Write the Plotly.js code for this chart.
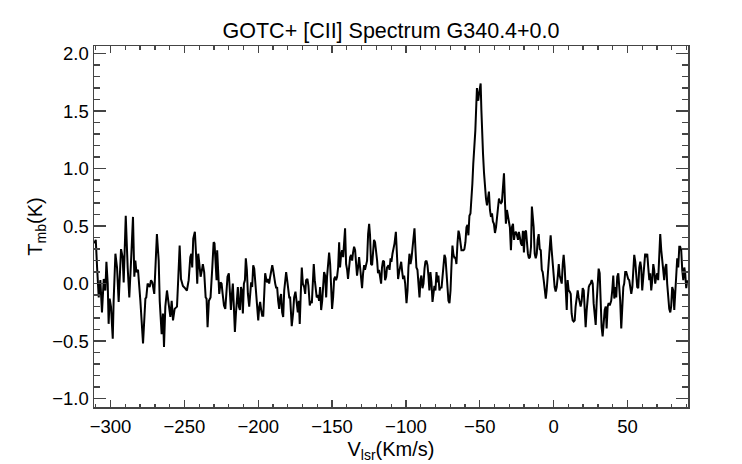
<!DOCTYPE html>
<html>
<head>
<meta charset="utf-8">
<script src="https://cdn.plot.ly/plotly-3.0.1.min.js"></script>
<style>
  html, body { margin: 0; padding: 0; background: #fff; }
  #plot { width: 742px; height: 464px; }
</style>
</head>
<body>
<div id="plot"></div>
<script>
// velocity (km/s)
var vlsr = [
  -311.0, -310.0, -309.1, -308.0, -306.9, -305.8, -304.6, -303.5, -302.8, -301.9,
  -301.3, -300.6, -299.7, -298.5, -297.9, -296.7, -295.6, -294.5, -292.9, -291.8,
  -291.1, -289.7, -288.4, -287.3, -286.1, -284.8, -283.9, -283.2, -282.5, -281.4,
  -279.8, -278.0, -276.4, -275.8, -274.9, -273.5, -272.6, -271.7, -270.4, -268.6,
  -267.4, -266.7, -265.4, -264.5, -263.8, -262.9, -261.8, -260.9, -259.5, -258.6,
  -257.7, -256.6, -255.0, -254.1, -253.2, -252.3, -251.0, -249.6, -248.3, -247.1,
  -246.0, -245.3, -244.7, -244.0,
  -242.9, -242.0, -241.3, -240.6, -239.7, -239.0, -238.1, -237.5, -236.6, -235.6,
  -235.0, -234.3, -233.4, -232.3, -231.1, -230.2, -229.6, -228.9, -228.2, -227.8,
  -227.1, -226.4, -225.5, -224.8, -224.1, -223.2, -222.3, -221.4, -220.8, -219.9,
  -219.2, -218.5, -217.8, -217.2, -216.5, -215.8, -215.1, -214.5, -213.8, -213.1,
  -212.4, -211.7, -211.1, -210.4, -209.7, -209.0, -208.4, -207.7, -207.0, -206.1,
  -205.4, -204.8, -204.1, -203.4, -202.7, -202.0, -201.4, -200.7, -200.0, -199.3,
  -198.7, -198.0, -197.3, -196.6, -196.0, -195.3, -194.6, -193.9, -193.3, -192.6,
  -191.9, -191.2, -190.5, -189.9, -189.2, -188.5, -187.8, -187.2, -186.5, -185.8,
  -185.1, -184.5, -183.8, -183.1, -182.4, -181.7, -181.1, -180.4, -179.7, -179.0,
  -178.4,
  -177.9, -177.3, -176.4, -175.7, -174.8, -174.1, -173.2, -172.5, -171.9, -171.2,
  -170.5, -169.8, -168.9, -168.2, -167.6, -166.7, -166.0, -165.1, -164.4, -163.7,
  -163.1, -162.4, -161.7, -161.0, -160.4, -159.5, -158.8, -158.1, -157.4, -156.7,
  -156.1, -155.4, -154.7, -154.0, -153.4, -152.7, -152.0, -151.3, -150.7, -150.0,
  -149.3, -148.6, -147.9, -147.3, -146.6, -145.9, -145.2, -144.6, -143.9, -143.2,
  -142.5, -141.9, -141.2, -140.5, -139.8, -139.2, -138.5, -137.8, -137.1, -136.4,
  -135.8, -135.1, -134.4, -133.7, -133.1, -132.4, -131.7, -131.0, -130.4, -129.7,
  -129.0, -128.3, -127.7, -127.0, -126.3, -125.6, -124.9, -124.3, -123.6, -122.9,
  -122.2, -121.6, -120.9, -120.2, -119.5, -118.9, -118.2, -117.5, -116.8, -116.2,
  -115.5, -114.8, -114.1, -113.4, -112.8,
  -111.8, -111.1, -110.4, -109.8, -109.1, -108.4, -107.7, -106.8, -106.2, -105.3,
  -104.6, -103.9, -103.2, -102.5, -101.9, -101.2, -100.5, -99.6, -98.9, -98.3,
  -97.6, -96.9, -96.2, -95.6, -94.9, -94.2, -93.5, -92.9, -92.2, -91.5,
  -90.8, -90.1, -89.5, -88.8, -88.1, -87.4, -86.8, -86.1, -85.4, -84.7,
  -84.1, -83.4, -82.7, -82.0, -81.4, -80.7, -80.0, -79.3, -78.6, -78.0,
  -77.3, -76.6, -75.9, -75.3, -74.6, -73.9, -73.2, -72.6, -71.9, -71.2,
  -70.5, -69.8, -69.2, -68.5, -67.8, -67.1, -66.5, -65.8, -65.1, -64.4,
  -63.8, -63.1, -62.4, -61.7, -61.0, -60.4, -59.7, -59.0, -58.3, -57.7,
  -57.0, -56.3,
  -55.7, -55.0, -54.4, -53.7, -53.0, -52.3, -51.9, -51.4, -51.0, -50.5,
  -49.8, -49.4, -48.9, -48.5, -47.8, -47.1, -46.5, -45.8, -45.1, -44.4,
  -43.8, -43.1, -42.4, -41.7, -41.1, -40.4, -39.7, -39.0, -38.3, -37.7,
  -37.0, -36.3, -35.6, -35.0, -34.3, -33.6, -32.9, -32.3, -31.6, -30.9,
  -30.2, -29.6, -28.9, -28.2, -27.5, -26.8, -26.2, -25.5, -24.8, -24.1,
  -23.5, -22.8, -22.1, -21.4, -20.8, -20.1, -19.4, -18.7, -18.1, -17.4,
  -16.7, -16.0, -15.3, -14.7,
  -13.5, -12.8, -12.1, -11.4, -10.8, -10.1, -9.4, -8.7, -8.0, -7.4,
  -6.7, -6.0, -5.3, -4.7, -4.0, -3.3, -2.6, -2.0, -1.3, -0.6,
  0.1, 0.7, 1.4, 2.1, 2.8, 3.5, 4.1, 4.8, 5.5, 6.2,
  6.8, 7.5, 8.2, 8.9, 9.5, 10.2, 10.9, 11.6, 12.2, 12.9,
  13.6, 14.3, 14.9, 15.6, 16.3, 17.0, 17.7, 18.3, 19.0, 19.7,
  20.4, 21.0, 21.7, 22.4, 23.1, 23.8, 24.4, 25.1, 25.8, 26.5,
  27.1, 27.8, 28.5, 29.2, 29.8, 30.5, 31.2, 31.9, 32.5, 33.2,
  33.9, 34.6, 35.3, 35.9, 36.6, 37.3, 38.0,
  39.0, 39.7, 40.4, 41.1, 41.7, 42.4, 43.1, 43.8, 44.5, 45.1,
  45.8, 46.5, 47.2, 47.8, 48.5, 49.2, 49.9, 50.5, 51.2, 51.9,
  52.6, 53.3, 53.9, 54.6, 55.3, 56.0, 56.6, 57.3, 58.0, 58.7,
  59.3, 60.0, 60.7, 61.4, 62.0, 62.7, 63.4, 64.1, 64.8, 65.4,
  66.1, 66.8, 67.5, 68.1, 68.8, 69.5, 70.2, 70.8, 71.5, 72.2,
  72.9, 73.5, 74.2, 74.9, 75.6, 76.3, 76.9, 77.6, 78.3, 79.0,
  79.6, 80.3, 81.0, 81.7, 82.3, 83.0, 83.7, 84.4, 85.1, 85.7,
  86.4, 87.1, 87.8, 88.5, 89.1, 89.8, 90.5
];

// main beam temperature (K)
var tmb = [
  0.35, 0.38, 0.14, -0.12, 0.03, -0.25, 0.04, -0.06, 0.19, 0.00,
  -0.35, -0.13, -0.20, -0.48, -0.15, 0.26, 0.14, -0.16, 0.30, 0.23,
  0.01, 0.59, 0.14, -0.12, 0.20, 0.58, 0.06, 0.20, 0.10, 0.12,
  -0.15, -0.52, -0.13, -0.12, 0.00, -0.03, 0.03, 0.01, -0.09, 0.43,
  0.20, -0.15, -0.44, -0.26, -0.55, -0.20, -0.06, -0.17, -0.29, -0.15,
  -0.32, -0.22, -0.20, 0.06, 0.33, 0.04, -0.02, -0.04, -0.06, 0.03,
  0.23, 0.26, 0.14, 0.39,
  0.45, 0.23, 0.00, 0.26, 0.10, 0.06, 0.12, 0.17, 0.10, -0.12,
  -0.13, -0.38, -0.15, -0.12, 0.14, 0.36, 0.35, 0.23, 0.03, 0.29,
  0.12, -0.09, 0.01, 0.00, -0.09, -0.19, -0.22, -0.06, 0.06, 0.09,
  -0.12, -0.23, -0.09, 0.00, -0.20, -0.42, -0.26, -0.09, -0.03, -0.20,
  -0.23, -0.03, -0.06, -0.26, 0.00, 0.03, 0.22, 0.12, -0.09, -0.20,
  -0.06, 0.01, -0.03, 0.16, 0.13, 0.00, -0.09, -0.23, -0.32, -0.20,
  -0.16, -0.23, -0.28, -0.28, 0.00, 0.09, 0.04, 0.01, 0.04, 0.00,
  0.06, 0.10, 0.16, 0.12, 0.04, 0.00, -0.04, -0.03, -0.15, -0.22,
  -0.12, -0.09, -0.25, -0.29, -0.06, 0.07, 0.10, 0.03, -0.06, -0.12,
  -0.12,
  -0.26, -0.37, -0.26, -0.12, -0.07, -0.17, -0.25, -0.15, -0.35, -0.09,
  0.14, 0.00, -0.03, -0.09, 0.03, 0.04, -0.02, -0.19, -0.15, -0.17,
  0.03, 0.17, 0.03, -0.03, -0.12, -0.10, -0.15, -0.03, -0.23, -0.15,
  0.01, 0.10, 0.07, -0.12, 0.06, 0.16, 0.27, 0.17, -0.03, -0.22,
  -0.12, 0.04, 0.06, 0.03, 0.06, 0.14, 0.36, 0.14, 0.25, 0.29,
  0.23, 0.32, 0.48, 0.17, 0.12, 0.04, 0.14, 0.23, 0.25, 0.20,
  0.27, 0.32, 0.29, 0.17, 0.07, 0.14, 0.23, 0.14, 0.03, -0.04,
  0.09, 0.16, 0.12, 0.17, 0.20, 0.43, 0.52, 0.42, 0.17, 0.16,
  0.27, 0.38, 0.36, 0.29, 0.20, 0.09, 0.12, 0.06, 0.00, 0.14,
  0.20, 0.19, 0.03, 0.06, 0.14,
  0.16, 0.12, 0.22, 0.19, 0.26, 0.30, 0.35, 0.45, 0.26, 0.04,
  0.10, 0.16, 0.19, 0.10, 0.04, 0.07, 0.00, -0.17, -0.06, 0.14,
  0.26, 0.17, 0.22, 0.30, 0.38, 0.48, 0.29, 0.14, 0.12, 0.03,
  -0.12, 0.04, 0.07, -0.04, 0.00, 0.13, 0.19, 0.20, 0.16, 0.06,
  -0.06, 0.10, 0.01, -0.16, -0.06, -0.02, -0.06, 0.10, 0.01, 0.07,
  -0.06, -0.03, -0.04, 0.03, 0.14, 0.25, 0.22, 0.09, -0.03, -0.15,
  -0.17, -0.06, 0.14, 0.33, 0.25, 0.22, 0.23, 0.17, 0.35, 0.46,
  0.43, 0.35, 0.29, 0.29, 0.29, 0.30, 0.36, 0.49, 0.51, 0.42,
  0.59, 0.61,
  0.71, 0.87, 1.04, 1.16, 1.33, 1.57, 1.70, 1.61, 1.59, 1.65,
  1.72, 1.74, 1.51, 1.30, 1.13, 0.96, 0.84, 0.74, 0.68, 0.78,
  0.80, 0.64, 0.58, 0.61, 0.54, 0.52, 0.44, 0.49, 0.58, 0.67,
  0.74, 0.71, 0.70, 0.71, 0.86, 0.96, 0.70, 0.52, 0.64, 0.58,
  0.55, 0.49, 0.29, 0.49, 0.52, 0.38, 0.44, 0.45, 0.42, 0.38,
  0.45, 0.38, 0.35, 0.33, 0.46, 0.27, 0.45, 0.46, 0.33, 0.26,
  0.22, 0.23, 0.32, 0.67,
  0.49, 0.26, 0.22, 0.26, 0.38, 0.43, 0.30, 0.29, 0.12, 0.10,
  0.03, -0.09, -0.13, -0.06, 0.06, 0.23, 0.38, 0.42, 0.29, 0.14,
  0.06, -0.03, -0.07, -0.03, 0.06, 0.17, 0.07, 0.03, 0.00, 0.17,
  0.25, 0.14, -0.03, -0.23, 0.03, -0.06, -0.07, -0.09, -0.26, -0.32,
  -0.33, -0.32, -0.20, -0.12, -0.06, -0.12, -0.16, -0.20, -0.15, -0.04,
  -0.06, -0.23, -0.38, -0.23, -0.09, -0.03, -0.01, 0.00, 0.03, 0.00,
  -0.17, -0.29, -0.36, -0.15, 0.00, 0.13, 0.09, -0.17, -0.38, -0.46,
  -0.35, -0.23, -0.20, -0.39, -0.20, -0.17, -0.19,
  -0.15, -0.06, 0.07, -0.13, -0.03, -0.12, 0.06, 0.09, -0.03, -0.15,
  -0.39, -0.15, -0.03, 0.00, 0.10, 0.10, 0.06, 0.04, 0.03, -0.04,
  -0.09, -0.03, 0.12, 0.25, 0.19, 0.03, -0.03, -0.04, 0.14, 0.19,
  0.14, -0.06, 0.03, 0.17, 0.26, 0.23, 0.26, 0.14, 0.03, 0.09,
  -0.06, 0.03, 0.17, 0.12, 0.00, 0.06, 0.09, 0.03, 0.25, 0.43,
  0.29, 0.19, 0.12, 0.03, 0.14, 0.17, 0.00, -0.15, -0.22, -0.25,
  -0.20, -0.03, -0.06, -0.23, -0.06, 0.12, 0.22, 0.14, 0.32, 0.32,
  0.29, 0.12, 0.03, 0.14, 0.09, -0.04, 0.03
];

var xRange = [-311.2, 91];
var yRange = [-1.073, 2.066];

var spectrum = {
  x: vlsr,
  y: tmb,
  mode: 'lines',
  type: 'scatter',
  line: {color: '#000', width: 2},
  hoverinfo: 'x+y'
};

var family = 'Liberation Sans, Arial, sans-serif';
var tickFont = {family: family, size: 18.5, color: '#000'};
var labelFont = {family: family, size: 20, color: '#000'};

var layout = {
  width: 742,
  height: 464,
  margin: {l: 94, r: 54, t: 46, b: 57},
  paper_bgcolor: '#fff',
  plot_bgcolor: '#fff',
  showlegend: false,
  font: tickFont,
  title: {
    text: 'GOTC+ [CII] Spectrum G340.4+0.0',
    font: {family: family, size: 21.5, color: '#000'},
    x: 0.527, xanchor: 'center',
    y: 0.935, yanchor: 'middle'
  },
  xaxis: {
    range: xRange,
    dtick: 50,
    ticks: 'inside',
    ticklen: 7,
    tickwidth: 1.3,
    tickcolor: '#444',
    showline: true,
    linecolor: '#444',
    linewidth: 1.5,
    mirror: 'allticks',
    showgrid: false,
    zeroline: false,
    tickfont: tickFont,
    ticklabelstandoff: 2,
    minor: {dtick: 10, ticks: 'inside', ticklen: 3.5, tickcolor: '#444', tickwidth: 1.3, showgrid: false},
    title: {text: 'V<sub>lsr</sub>(Km/s)', font: labelFont, standoff: 6}
  },
  yaxis: {
    range: yRange,
    dtick: 0.5,
    tickformat: '.1f',
    ticks: 'inside',
    ticklen: 12,
    tickwidth: 1.3,
    tickcolor: '#444',
    showline: true,
    linecolor: '#444',
    linewidth: 1.5,
    mirror: 'allticks',
    showgrid: false,
    zeroline: false,
    tickfont: tickFont,
    minor: {dtick: 0.1, ticks: 'inside', ticklen: 6, tickcolor: '#444', tickwidth: 1.3, showgrid: false},
    title: {text: 'T<sub>mb</sub>(K)', font: labelFont, standoff: 4}
  }
};

Plotly.newPlot('plot', [spectrum], layout, {displayModeBar: false, staticPlot: true});
</script>
</body>
</html>
